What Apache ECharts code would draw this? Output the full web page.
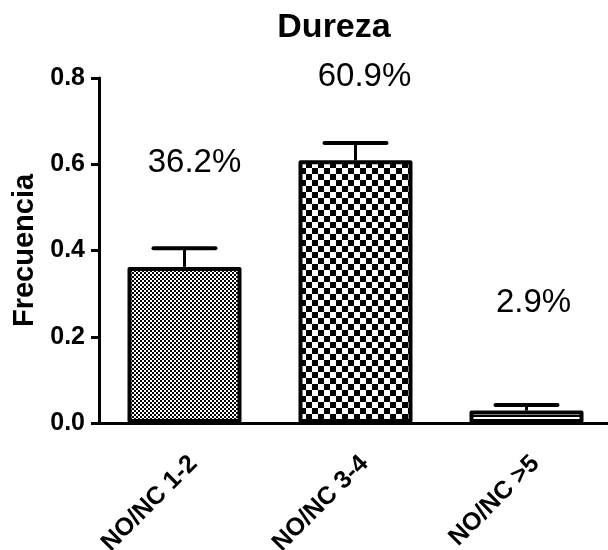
<!DOCTYPE html>
<html>
<head>
<meta charset="utf-8">
<script src="https://cdn.jsdelivr.net/npm/echarts@6/dist/echarts.min.js"></script>
<style>
html,body{margin:0;padding:0;background:#fff;}
#chart{width:608px;height:550px;}
</style>
</head>
<body>
<div id="chart"></div>
<script>
// ---- data ----
const categories = ['NO/NC 1-2', 'NO/NC 3-4', 'NO/NC >5'];
const frequencies = [0.362, 0.609, 0.029];
const errors = [0.043, 0.040, 0.013];
const yTicks = [0.0, 0.2, 0.4, 0.6, 0.8];

// ---- styling / layout ----
const FONT = '"Liberation Sans", Arial, Helvetica, sans-serif';
const labelOffsets = [[10, -87], [9, -67], [7, -91]];

function makePattern(size, draw) {
  const c = document.createElement('canvas');
  c.width = size; c.height = size;
  const ctx = c.getContext('2d');
  ctx.fillStyle = '#fff';
  ctx.fillRect(0, 0, size, size);
  ctx.fillStyle = '#000';
  draw(ctx);
  return c;
}
const fineChecker = makePattern(4, ctx => { ctx.fillRect(0, 0, 2, 2); ctx.fillRect(2, 2, 2, 2); });
const coarseChecker = makePattern(12, ctx => { ctx.fillRect(0, 0, 6, 6); ctx.fillRect(6, 6, 6, 6); });
const hLines = makePattern(24, ctx => { ctx.fillRect(0, 7, 24, 2); });
const patterns = [fineChecker, coarseChecker, hLines];

const chart = echarts.init(document.getElementById('chart'), null, {renderer: 'canvas'});

const barData = frequencies.map((v, i) => ({
  value: v,
  itemStyle: { color: { image: patterns[i], repeat: 'repeat' } },
  label: { offset: labelOffsets[i] }
}));
const errData = frequencies.map((v, i) => [i, v, errors[i]]);

chart.setOption({
  animation: false,
  backgroundColor: '#fff',
  title: {
    text: 'Dureza',
    left: 329,
    top: 6,
    textAlign: 'center',
    textStyle: { fontFamily: FONT, fontWeight: 'bold', fontSize: 34, color: '#000' }
  },
  grid: { left: 99, width: 513, top: 78, bottom: 127, containLabel: false, outerBoundsMode: 'none' },
  xAxis: {
    type: 'category',
    data: categories,
    axisLine: { lineStyle: { color: '#000', width: 3 } },
    axisTick: { alignWithLabel: true, length: 10, lineStyle: { color: '#000', width: 3 } },
    axisLabel: {
      rotate: 45, margin: 28, color: '#000', verticalAlign: 'top',
      fontFamily: FONT, fontWeight: 'bold', fontSize: 25
    },
    splitLine: { show: false }
  },
  yAxis: {
    type: 'value',
    min: 0, max: 0.8, interval: 0.2,
    name: 'Frecuencia',
    nameLocation: 'middle',
    nameRotate: 90,
    nameGap: 58,
    nameTextStyle: { fontFamily: FONT, fontWeight: 'bold', fontSize: 29, color: '#000' },
    axisLine: { show: true, lineStyle: { color: '#000', width: 3 } },
    axisTick: { show: true, length: 8, lineStyle: { color: '#000', width: 3 } },
    axisLabel: {
      margin: 14, color: '#000',
      fontFamily: FONT, fontWeight: 'bold', fontSize: 25,
      formatter: v => yTicks.includes(Math.round(v * 10) / 10) ? v.toFixed(1) : ''
    },
    splitLine: { show: false }
  },
  series: [
    {
      type: 'bar',
      data: barData,
      barWidth: 114,
      itemStyle: { borderColor: '#000', borderWidth: 4, borderJoin: 'round' },
      label: {
        show: true,
        position: 'top',
        distance: 0,
        color: '#000',
        fontFamily: FONT,
        fontSize: 33,
        formatter: p => (p.value * 100).toFixed(1) + '%'
      },
      z: 2
    },
    {
      type: 'custom',
      data: errData,
      z: 3,
      renderItem: function (params, api) {
        const i = api.value(0), v = api.value(1), e = api.value(2);
        const base = api.coord([i, v]);
        const top = api.coord([i, v + e]);
        const half = 31;
        return {
          type: 'group',
          children: [
            { type: 'line', shape: { x1: base[0], y1: base[1], x2: top[0], y2: top[1] },
              style: { stroke: '#000', lineWidth: 3 } },
            { type: 'line', shape: { x1: top[0] - half, y1: top[1], x2: top[0] + half, y2: top[1] },
              style: { stroke: '#000', lineWidth: 4, lineCap: 'round' } }
          ]
        };
      }
    }
  ]
});
</script>
</body>
</html>
